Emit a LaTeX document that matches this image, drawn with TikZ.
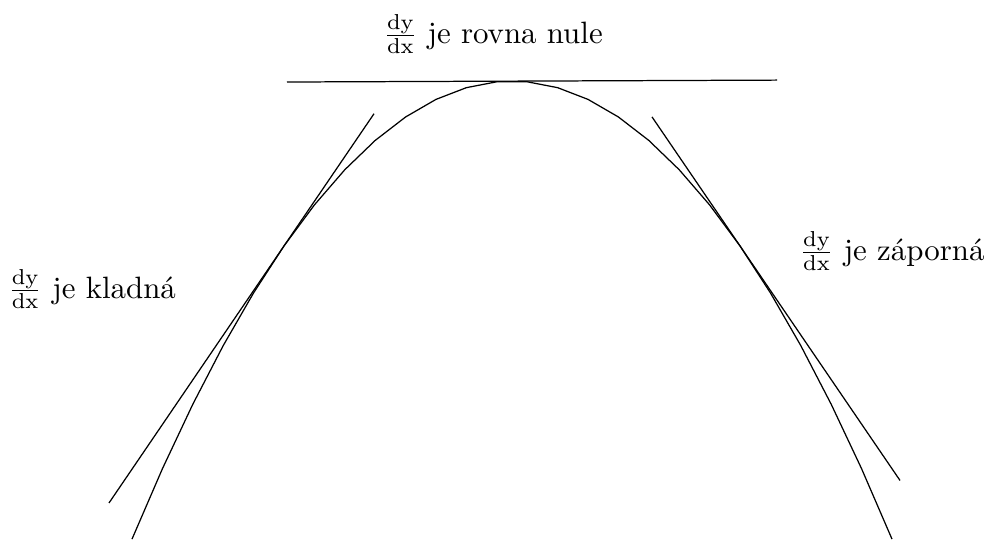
\documentclass[tikz,border=0pt]{standalone}
\usepackage{amsmath}
\usepackage{fontspec}
\usepackage{tikz}

\begin{document}
\begin{tikzpicture}[
  x=1.138cm, y=0.361cm,
  curve/.style={black},
  tangent/.style={black},
  lbl/.style={inner sep=0pt, font=\normalsize}
]
\useasboundingbox (-5.12,2.555) rectangle (4.77,-14.48);
% parabola
\draw[curve] plot[domain=-3.8:3.8, samples=26] (\x,{-\x*\x});
% tangents
\coordinate (la) at (-4.03,-13.30);
\coordinate (lb) at (-1.38,-1.03);
\coordinate (ra) at (1.40,-1.13);
\coordinate (rb) at (3.88,-12.59);
\coordinate (ta) at (-2.25,-0.03);
\coordinate (tb) at (2.65,0.03);
\draw[tangent] (la) -- (lb);
\draw[tangent] (ra) -- (rb);
\draw[tangent] (ta) -- (tb);
% labels
\node[lbl] (zero) at (-0.19,1.48) {$\frac{\mathrm{dy}}{\mathrm{dx}}$ je rovna nule};
\node[lbl] (pos) at (-4.2,-6.56) {$\frac{\mathrm{dy}}{\mathrm{dx}}$ je kladná};
\node[lbl] (neg) at (3.80,-5.36) {$\frac{\mathrm{dy}}{\mathrm{dx}}$ je záporná};
\end{tikzpicture}
\end{document}
